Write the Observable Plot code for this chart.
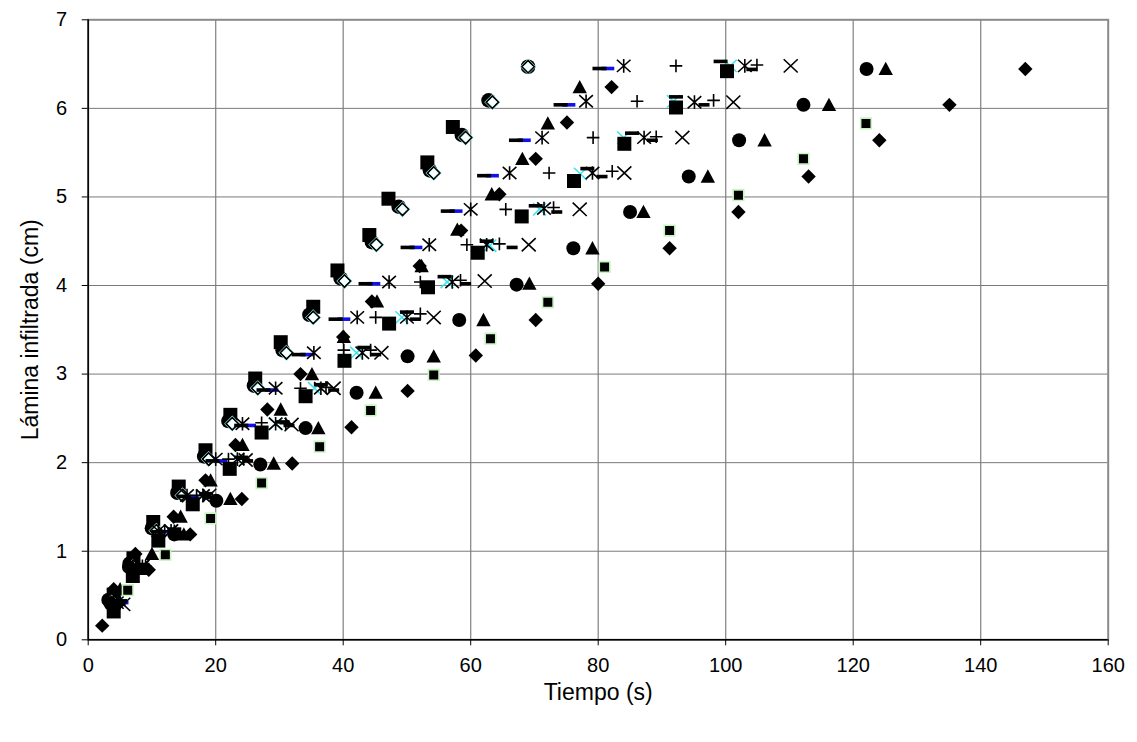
<!DOCTYPE html>
<html><head><meta charset="utf-8">
<script src="https://cdn.jsdelivr.net/npm/d3@7"></script>
<script src="https://cdn.jsdelivr.net/npm/@observablehq/plot@0.6"></script>
<style>
body{margin:0;background:#fff;}
#chart svg{font-family: Arial, "Liberation Sans", sans-serif;}
</style>
</head><body><div id="chart"></div>
<script>
// ---- axis ticks ----
const xTicks = [0, 20, 40, 60, 80, 100, 120, 140, 160];
const yTicks = [0, 1, 2, 3, 4, 5, 6, 7];
const xLabel = "Tiempo (s)";
const yLabel = "Lámina infiltrada (cm)";

// ---- series (time s, infiltrated depth cm) ----
// filled diamond (slowest)
const diamondAT = [2.2, 4.5, 9.5, 16, 24.1, 32.0, 41.3, 50.1, 60.8, 70.2, 80, 91.2, 102, 113, 124.1, 135.1, 147];
const diamondAL = [0.16, 0.39, 0.79, 1.19, 1.59, 1.99, 2.40, 2.81, 3.21, 3.61, 4.02, 4.42, 4.83, 5.23, 5.64, 6.04, 6.445];
// filled square with light green edge
const greenSqT = [6.2, 12.1, 19.2, 27.2, 36.3, 44.3, 54.2, 63.1, 72.1, 81, 91.2, 102, 112.2, 122];
const greenSqL = [0.56, 0.96, 1.37, 1.77, 2.18, 2.59, 2.99, 3.40, 3.81, 4.21, 4.62, 5.02, 5.43, 5.83];
// circle
const circleAT = [3.5, 6.4, 13.5, 20.1, 27.0, 34.1, 42.1, 50.1, 58.2, 67.2, 76.1, 85.0, 94.2, 102.1, 112.2, 122.1];
const circleAL = [0.41, 0.82, 1.19, 1.57, 1.98, 2.39, 2.79, 3.20, 3.61, 4.01, 4.42, 4.83, 5.23, 5.64, 6.04, 6.445];
// triangle
const triAT = [4, 8.5, 15, 22.3, 29.1, 36.1, 45.1, 54.2, 62.0, 69.2, 79.1, 87.1, 97.2, 106.1, 116.2, 125.1];
const triAL = [0.41, 0.80, 1.19, 1.59, 1.99, 2.39, 2.79, 3.20, 3.61, 4.02, 4.42, 4.83, 5.23, 5.64, 6.04, 6.445];
// x marker
const crossT = [5.5, 8.5, 13, 19, 24.7, 31.9, 38.5, 46.0, 54.2, 62.2, 69.1, 77.1, 84.1, 93.2, 101.2, 110.2];
const crossL = [0.40, 0.83, 1.23, 1.63, 2.03, 2.43, 2.84, 3.24, 3.64, 4.05, 4.46, 4.86, 5.27, 5.67, 6.07, 6.48];
// plus markers
const plusAT = [4.5, 7.5, 12, 17, 22, 27.2, 33.3, 40.1, 45.1, 52.1, 59.4, 65.5, 72.3, 79.2, 86.1, 92.2];
const plusAL = [0.42, 0.83, 1.23, 1.63, 2.04, 2.45, 2.84, 3.27, 3.64, 4.04, 4.46, 4.86, 5.27, 5.67, 6.08, 6.48];
const plusBT = [5, 9, 13.5, 18.1, 24.4, 31, 37.3, 44.3, 52.1, 58.4, 64.5, 73, 82.2, 89.1, 98.1, 104.9];
const plusBL = [0.42, 0.83, 1.23, 1.63, 2.04, 2.44, 2.85, 3.27, 3.68, 4.06, 4.47, 4.88, 5.29, 5.68, 6.09, 6.49];
// star markers
const starAT = [4, 7, 11, 15.5, 20, 24.2, 29.4, 35.4, 42.2, 47.2, 53.5, 60, 66.1, 71.2, 78.1, 84.0];
const starAL = [0.42, 0.83, 1.23, 1.63, 2.04, 2.44, 2.84, 3.24, 3.64, 4.04, 4.46, 4.86, 5.27, 5.67, 6.08, 6.48];
const starBT = [4.5, 8.5, 13, 18, 23.4, 29.4, 36.5, 43.0, 50.0, 57.1, 62.5, 71.5, 79.1, 87.2, 95.1, 103.0];
const starBL = [0.42, 0.83, 1.23, 1.63, 2.04, 2.44, 2.84, 3.24, 3.64, 4.04, 4.46, 4.87, 5.27, 5.67, 6.07, 6.48];
// dash markers
const dashAT = [4, 7, 11, 15, 19.5, 24, 27.5, 33, 38.8, 43.5, 50.1, 56.4, 62.1, 67.1, 74.1, 80.2];
const dashAL = [0.42, 0.82, 1.22, 1.62, 2.02, 2.42, 2.82, 3.22, 3.62, 4.02, 4.43, 4.84, 5.24, 5.64, 6.04, 6.45];
const dashBlueT = [5.3, 8.3, 12.3, 16.3, 20.8, 25.3, 28.8, 34.3, 40.1, 44.8, 51.4, 57.7, 63.4, 68.4, 75.4, 81.5];
const dashBlueL = [0.42, 0.82, 1.22, 1.62, 2.02, 2.42, 2.82, 3.22, 3.62, 4.02, 4.43, 4.84, 5.24, 5.64, 6.04, 6.45];
const dashBT = [5, 8.5, 13.5, 18.5, 24, 30.5, 36.5, 43.3, 50, 55.9, 62.5, 70.2, 78.3, 85.3, 92.2, 99.2];
const dashBL = [0.44, 0.85, 1.25, 1.65, 2.06, 2.46, 2.88, 3.30, 3.70, 4.10, 4.50, 4.90, 5.32, 5.72, 6.13, 6.53];
const dashCT = [5, 9, 14, 19, 25, 31.5, 38.5, 45.1, 51.3, 59.2, 66.5, 73.5, 80.6, 88.5, 96.6, 104.1];
const dashCL = [0.40, 0.81, 1.21, 1.61, 2.02, 2.42, 2.82, 3.22, 3.62, 4.02, 4.43, 4.83, 5.23, 5.64, 6.04, 6.44];
// black squares
const squareAT = [4, 7, 11, 16.4, 22.2, 27.2, 34.1, 40.2, 47.2, 53.3, 61.1, 68.0, 76.2, 84.1, 92.2, 100.2];
const squareAL = [0.32, 0.72, 1.12, 1.53, 1.93, 2.34, 2.75, 3.15, 3.57, 3.98, 4.37, 4.78, 5.18, 5.60, 6.01, 6.42];
const squareBT = [4, 7.1, 10.2, 14.2, 18.4, 22.3, 26.2, 30.2, 35.3, 39.1, 44.1, 47.1, 53.2, 57.2];
const squareBL = [0.51, 0.92, 1.33, 1.73, 2.14, 2.54, 2.95, 3.36, 3.76, 4.17, 4.57, 4.98, 5.39, 5.79];
// hollow diamond (fastest) and circle underneath
const hollowT = [3.7, 7.1, 10.7, 14.8, 18.9, 22.6, 26.6, 31.1, 35.3, 40.2, 45.2, 49.3, 54.2, 59.2, 63.4, 69.0];
const hollowL = [0.42, 0.83, 1.23, 1.63, 2.04, 2.44, 2.84, 3.24, 3.64, 4.05, 4.46, 4.86, 5.27, 5.67, 6.07, 6.47];
const circleBT = [3.2, 6.5, 10, 14, 18.2, 22, 26, 30.5, 34.7, 39.6, 44.5, 48.7, 53.6, 58.6, 62.8, 69.0];
const circleBL = [0.45, 0.86, 1.26, 1.66, 2.07, 2.47, 2.87, 3.27, 3.67, 4.08, 4.49, 4.89, 5.30, 5.70, 6.09, 6.47];
// second diamond / triangle pair
const diamondBT = [4, 7.4, 13.4, 18.4, 23.1, 28.1, 33.3, 40.0, 44.5, 52.0, 58.5, 64.5, 70.2, 75.1, 82.1];
const diamondBL = [0.57, 0.97, 1.39, 1.80, 2.20, 2.60, 3.00, 3.42, 3.82, 4.22, 4.62, 5.03, 5.43, 5.84, 6.24];
const triBT = [5, 10, 14.5, 19.2, 24.2, 30.2, 35.1, 40.1, 45.3, 52.3, 57.9, 63.3, 68.1, 72.1, 77.1];
const triBL = [0.57, 0.97, 1.39, 1.80, 2.20, 2.60, 3.00, 3.42, 3.82, 4.22, 4.63, 5.03, 5.43, 5.83, 6.24];
// cyan x (mostly hidden)
const cyanT = [4.5, 8.5, 13, 18, 23.5, 29.4, 35.5, 42.1, 49.2, 56.3, 63, 70.8, 77.2, 84.0, 91.8, 100.7];
const cyanL = [0.42, 0.83, 1.23, 1.63, 2.04, 2.44, 2.84, 3.24, 3.64, 4.04, 4.45, 4.86, 5.26, 5.67, 6.08, 6.48];

// ---- helpers ----
const mk = (T, L) => T.map((t, i) => ({t, l: L[i]}));
const sym = fn => ({draw(c, size) { const r = Math.sqrt(size / Math.PI); fn(c, r); }});
const DIAMOND = sym((c, r) => { c.moveTo(0, -r); c.lineTo(r, 0); c.lineTo(0, r); c.lineTo(-r, 0); c.closePath(); });
const SQUARE = sym((c, r) => { c.rect(-r, -r, 2 * r, 2 * r); });
const TRI = sym((c, r) => { c.moveTo(0, -r * 1.0); c.lineTo(r, r * 0.85); c.lineTo(-r, r * 0.85); c.closePath(); });
const XS = sym((c, r) => { c.moveTo(-r, -r * 0.95); c.lineTo(r, r * 0.95); c.moveTo(r, -r * 0.95); c.lineTo(-r, r * 0.95); });
const PLUS = sym((c, r) => { c.moveTo(-r, 0); c.lineTo(r, 0); c.moveTo(0, -r); c.lineTo(0, r); });
const STAR = sym((c, r) => { c.moveTo(-r, -r * 0.9); c.lineTo(r, r * 0.9); c.moveTo(r, -r * 0.9); c.lineTo(-r, r * 0.9); c.moveTo(0, -r); c.lineTo(0, r); });
const DASH = sym((c, r) => { c.rect(-r, -1.8, 2 * r, 3.6); });

const P = {x: "t", y: "l"};
const filled = (data, symbol, r, extra = {}) => Plot.dot(data, {...P, symbol, r, fill: "black", stroke: "none", ...extra});
const stroked = (data, symbol, r, extra = {}) => Plot.dot(data, {...P, symbol, r, fill: "none", stroke: "black", strokeWidth: 1.6, ...extra});

const chart = Plot.plot({
  width: 1137,
  height: 742,
  marginLeft: 87.7,
  marginRight: 29.3,
  marginTop: 19.3,
  marginBottom: 102.7,
  x: {domain: [0, 160]},
  y: {domain: [0, 7]},
  style: {fontFamily: "Arial, 'Liberation Sans', sans-serif", background: "white"},
  marks: [
    Plot.gridX(xTicks.filter(d => d > 0 && d < 160), {stroke: "#8a8a8a", strokeOpacity: 1, strokeWidth: 1.3}),
    Plot.gridY(yTicks.filter(d => d > 0 && d < 7), {stroke: "#7a7a7a", strokeOpacity: 1, strokeWidth: 1}),
    Plot.frame({stroke: "#8a8a8a", strokeWidth: 2}),
    Plot.ruleX([0], {stroke: "black", strokeWidth: 1.5}),
    Plot.ruleY([0], {stroke: "black", strokeWidth: 1.5}),
    Plot.axisX(xTicks, {tickSize: 6, tickPadding: 12, fontSize: 20, label: null, stroke: "black", tickFormat: d3.format("d")}),
    Plot.axisY(yTicks, {tickSize: 6, tickPadding: 15, fontSize: 20, label: null, stroke: "black", tickFormat: d3.format("d")}),
    Plot.text([xLabel], {text: d => d, frameAnchor: "bottom", textAnchor: "middle", dy: 60, fontSize: 23}),
    Plot.text([yLabel], {text: d => d, frameAnchor: "left", textAnchor: "middle", rotate: -90, dx: -58, fontSize: 23}),

    // markers, drawn in layering order
    stroked(mk(cyanT, cyanL), XS, 6.5, {stroke: "#33e6f0", strokeWidth: 1.5}),
    filled(mk(dashBlueT, dashBlueL), DASH, 6.5, {fill: "#1010e8"}),
    filled(mk(circleBT, circleBL), "circle", 7.3),
    filled(mk(squareBT, squareBL), SQUARE, 7),
    Plot.dot(mk(hollowT, hollowL), {...P, symbol: DIAMOND, r: 7.3, fill: "none", stroke: "#a8f4f4", strokeWidth: 1.1}),
    Plot.dot(mk(hollowT, hollowL), {...P, symbol: DIAMOND, r: 6.1, fill: "white", stroke: "black", strokeWidth: 1.7}),
    Plot.dot(mk(hollowT, hollowL), {...P, symbol: DIAMOND, r: 4.5, fill: "white", stroke: "#b8f6f6", strokeWidth: 0.8}),
    filled(mk(dashAT, dashAL), DASH, 7),
    stroked(mk(starAT, starAL), STAR, 6.8),
    stroked(mk(plusAT, plusAL), PLUS, 6.3),
    filled(mk(diamondBT, diamondBL), DIAMOND, 7.2),
    filled(mk(triBT, triBL), TRI, 7.2),
    filled(mk(squareAT, squareAL), SQUARE, 7),
    filled(mk(dashBT, dashBL), DASH, 7),
    stroked(mk(starBT, starBL), STAR, 6.8),
    stroked(mk(plusBT, plusBL), PLUS, 6.3),
    filled(mk(dashCT, dashCL), DASH, 5.5),
    stroked(mk(crossT, crossL), XS, 7),
    filled(mk(circleAT, circleAL), "circle", 7),
    filled(mk(triAT, triAL), TRI, 7.2),
    filled(mk(greenSqT, greenSqL), SQUARE, 5.3, {stroke: "#c6f5c0", strokeWidth: 1.6}),
    filled(mk(diamondAT, diamondAL), DIAMOND, 7.2)
  ]
});
document.getElementById("chart").appendChild(chart);
</script>
</body></html>
